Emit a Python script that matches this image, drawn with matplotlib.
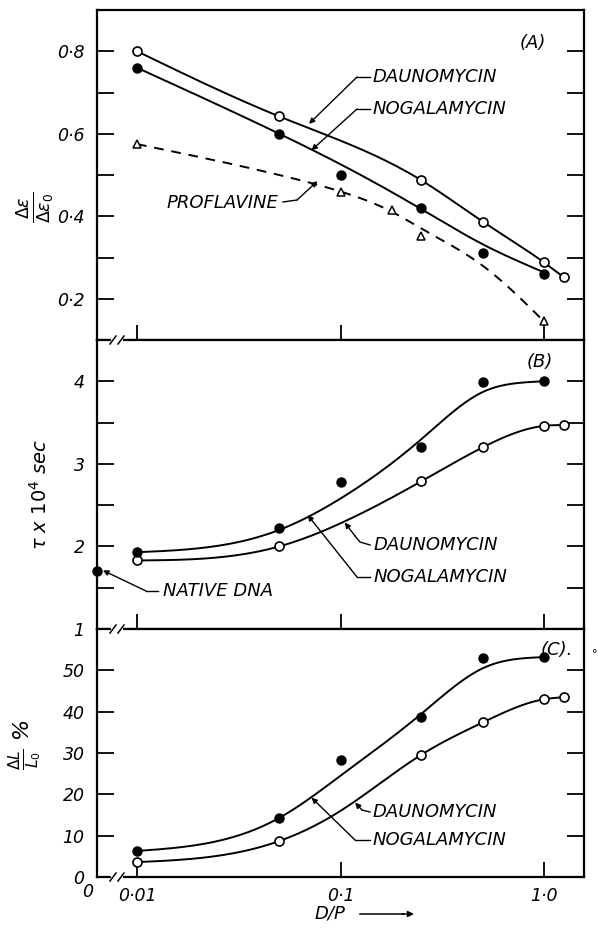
import numpy as np
import matplotlib
matplotlib.use('Agg')
import matplotlib.pyplot as plt
from matplotlib.lines import Line2D
from matplotlib.ticker import FixedLocator, NullLocator

plt.rcParams['font.family'] = ['DejaVu Sans']
plt.rcParams['mathtext.fontset'] = 'dejavusans'

W_PX, H_PX = 598, 932

# ---- data ----
dp_pts = [0.01, 0.05, 0.1, 0.25, 0.5, 1.0]
dp_open = [0.01, 0.05, 0.25, 0.5, 1.0, 1.25]
dp_tri = [0.01, 0.1, 0.18, 0.25, 1.0]

# (A) hypochromism ratio
a_daun = [0.80, 0.642, 0.487, 0.387, 0.288, 0.252]
a_noga = [0.76, 0.60, 0.50, 0.42, 0.31, 0.26]
a_prof = [0.575, 0.458, 0.414, 0.353, 0.145]
a_daun_fit_x = [0.01, 0.05, 0.25, 0.5, 1.0, 1.25]
a_daun_fit = [0.80, 0.642, 0.487, 0.387, 0.288, 0.252]
a_noga_fit_x = [0.01, 0.05, 0.1, 0.25, 0.5, 1.0]
a_noga_fit = [0.76, 0.60, 0.526, 0.417, 0.332, 0.264]
a_prof_fit_x = [0.01, 0.05, 0.1, 0.18, 0.25, 0.5, 1.0]
a_prof_fit = [0.575, 0.50, 0.46, 0.41, 0.37, 0.28, 0.145]

# (B) rotational relaxation time
b_daun = [1.83, 2.0, 2.79, 3.2, 3.46, 3.47]
b_noga = [1.93, 2.22, 2.78, 3.21, 3.99, 4.0]
b_native = 1.7
b_daun_fit_x = [0.01, 0.05, 0.1, 0.25, 0.5, 1.0, 1.25]
b_daun_fit = [1.83, 2.0, 2.28, 2.79, 3.2, 3.46, 3.47]
b_noga_fit_x = [0.01, 0.05, 0.1, 0.25, 0.5, 0.75, 1.0]
b_noga_fit = [1.93, 2.2, 2.58, 3.3, 3.87, 3.98, 4.0]

# (C) length increase
c_daun = [3.6, 8.7, 29.6, 37.4, 43.0, 43.5]
c_noga = [6.3, 14.3, 28.2, 38.6, 52.9, 53.2]
c_daun_fit_x = [0.01, 0.05, 0.1, 0.25, 0.5, 1.0, 1.25]
c_daun_fit = [3.6, 8.7, 16.0, 29.6, 37.4, 43.0, 43.5]
c_noga_fit_x = [0.01, 0.05, 0.1, 0.25, 0.5, 0.75, 1.0]
c_noga_fit = [6.3, 14.3, 24.5, 39.5, 50.5, 52.8, 53.2]

XMIN, XMAX = 0.00636, 1.572


def smooth(xs, ys, n=40):
    # natural cubic spline through the knots, in log-x space
    x = np.log10(xs)
    y = np.asarray(ys, float)
    k = len(x)
    h = np.diff(x)
    A = np.zeros((k, k))
    r = np.zeros(k)
    A[0, 0] = A[-1, -1] = 1
    for i in range(1, k - 1):
        A[i, i - 1] = h[i - 1]
        A[i, i] = 2 * (h[i - 1] + h[i])
        A[i, i + 1] = h[i]
        r[i] = 6 * ((y[i + 1] - y[i]) / h[i] - (y[i] - y[i - 1]) / h[i - 1])
    M = np.linalg.solve(A, r)
    px, py = [], []
    for i in range(k - 1):
        t = np.linspace(0, h[i], n, endpoint=False)
        a = (h[i] - t) / h[i]
        b = t / h[i]
        s = a * y[i] + b * y[i + 1] + ((a ** 3 - a) * M[i] + (b ** 3 - b) * M[i + 1]) * h[i] ** 2 / 6
        px.append(x[i] + t)
        py.append(s)
    px.append([x[-1]])
    py.append([y[-1]])
    return 10 ** np.concatenate(px), np.concatenate(py)


def fx(x):
    return x / W_PX


def fy(y):
    return 1 - y / H_PX


fig = plt.figure(figsize=(W_PX / 100, H_PX / 100), dpi=100)
L, Wd = 97 / W_PX, 487 / W_PX
axA = fig.add_axes([L, fy(340), Wd, 330 / H_PX])
axB = fig.add_axes([L, fy(629), Wd, 289 / H_PX])
axC = fig.add_axes([L, fy(877), Wd, 248 / H_PX])

txt = dict(style='italic', fontsize=13, color='k')
mk_open = dict(marker='o', ms=6.5, mfc='white', mec='k', mew=1.2, ls='none', zorder=5, clip_on=False)
mk_fill = dict(marker='o', ms=6.5, mfc='k', mec='k', ls='none', zorder=5, clip_on=False)

for ax in (axA, axB, axC):
    ax.set_xscale('log')
    ax.set_xlim(XMIN, XMAX)
    ax.xaxis.set_major_locator(FixedLocator([0.01, 0.1, 1.0]))
    ax.xaxis.set_minor_locator(NullLocator())
    ax.tick_params(axis='x', which='both', direction='in', length=11, width=1.3,
                   labelbottom=False)
    ax.tick_params(axis='y', which='both', direction='in', length=12, width=1.3,
                   right=True, pad=9, labelsize=12.5)
    for s in ax.spines.values():
        s.set_linewidth(1.6)

# ---- panel A ----
x, y = smooth(a_daun_fit_x, a_daun_fit)
axA.plot(x, y, color='k', lw=1.4)
x, y = smooth(a_noga_fit_x, a_noga_fit)
axA.plot(x, y, color='k', lw=1.4)
x, y = smooth(a_prof_fit_x, a_prof_fit)
axA.plot(x, y, color='k', lw=1.4, ls=(0, (5, 4)))
axA.plot(dp_open, a_daun, **mk_open)
axA.plot(dp_pts, a_noga, **mk_fill)
axA.plot(dp_tri, a_prof, marker='^', ms=6, mfc='white', mec='k', mew=1.1, ls='none', zorder=5)
axA.set_ylim(0.1, 0.9)
axA.yaxis.set_major_locator(FixedLocator([0.2, 0.4, 0.6, 0.8]))
axA.yaxis.set_minor_locator(FixedLocator([0.3, 0.5, 0.7]))
axA.set_yticklabels(['0·2', '0·4', '0·6', '0·8'], style='italic')

# ---- panel B ----
x, y = smooth(b_daun_fit_x, b_daun_fit)
axB.plot(x, y, color='k', lw=1.4)
x, y = smooth(b_noga_fit_x, b_noga_fit)
axB.plot(x, y, color='k', lw=1.4)
axB.plot(dp_open, b_daun, **mk_open)
axB.plot(dp_pts, b_noga, **mk_fill)
axB.plot([XMIN], [b_native], **mk_fill)
axB.set_ylim(1.0, 4.5)
axB.yaxis.set_major_locator(FixedLocator([1, 2, 3, 4]))
axB.yaxis.set_minor_locator(FixedLocator([1.5, 2.5, 3.5]))
axB.set_yticklabels(['1', '2', '3', '4'], style='italic')

# ---- panel C ----
x, y = smooth(c_daun_fit_x, c_daun_fit)
axC.plot(x, y, color='k', lw=1.4)
x, y = smooth(c_noga_fit_x, c_noga_fit)
axC.plot(x, y, color='k', lw=1.4)
axC.plot(dp_open, c_daun, **mk_open)
axC.plot(dp_pts, c_noga, **mk_fill)
axC.set_ylim(0, 60)
axC.yaxis.set_major_locator(FixedLocator([0, 10, 20, 30, 40, 50]))
axC.set_yticklabels(['0', '10', '20', '30', '40', '50'], style='italic')
axC.tick_params(axis='x', labelbottom=True, labelsize=12.5, pad=7)
axC.set_xticklabels(['0·01', '0·1', '1·0'], style='italic')
fig.text(fx(88), fy(892), '0', ha='center', va='center', style='italic', fontsize=12.5)

# axis break marks on each bottom spine
for yb in (340, 629, 877):
    fig.add_artist(Line2D([fx(113), fx(121)], [fy(yb), fy(yb)], transform=fig.transFigure,
                          color='white', lw=3, zorder=10))
    for xb in (113, 121):
        fig.add_artist(Line2D([fx(xb - 3), fx(xb + 3)], [fy(yb + 4), fy(yb - 4)],
                              transform=fig.transFigure, color='k', lw=1.1, zorder=11))

# y labels
fig.text(fx(36), fy(207), r'$\frac{\Delta\epsilon}{\Delta\epsilon_0}$', rotation=90,
         ha='center', va='center', fontsize=18)
fig.text(fx(40), fy(495), r'$\mathit{\tau}$ x $\mathit{10^4}$ sec', rotation=90,
         ha='center', va='center', fontsize=14, style='italic')
fig.text(fx(25), fy(745), r'$\frac{\Delta L}{L_0}$ %', rotation=90,
         ha='center', va='center', fontsize=16, style='italic')

# panel tags
fig.text(fx(533), fy(43), '(A)', ha='center', va='center', **txt)
fig.text(fx(540), fy(362), '(B)', ha='center', va='center', **txt)
fig.text(fx(557), fy(650), '(C).', ha='center', va='center', **txt)
fig.text(fx(595), fy(654), '°', ha='center', va='center', fontsize=8)


def leader(ax, pts, target):
    fig.add_artist(Line2D([fx(p[0]) for p in pts], [fy(p[1]) for p in pts],
                          transform=fig.transFigure, color='k', lw=1.0))
    ax.annotate('', xy=target, xycoords='data',
                xytext=(fx(pts[-1][0]), fy(pts[-1][1])), textcoords='figure fraction',
                arrowprops=dict(arrowstyle='-|>', lw=1.0, color='k', mutation_scale=8,
                                shrinkA=0, shrinkB=0))


# panel A labels
fig.text(fx(373), fy(77), 'DAUNOMYCIN', ha='left', va='center', **txt)
fig.text(fx(373), fy(109), 'NOGALAMYCIN', ha='left', va='center', **txt)
fig.text(fx(278), fy(203), 'PROFLAVINE', ha='right', va='center', **txt)
leader(axA, [(370, 77), (357, 77)], (0.07, 0.624))
leader(axA, [(370, 109), (357, 109)], (0.072, 0.56))
leader(axA, [(283, 202), (297, 200)], (0.077, 0.485))

# panel B labels
fig.text(fx(374), fy(545), 'DAUNOMYCIN', ha='left', va='center', **txt)
fig.text(fx(374), fy(577), 'NOGALAMYCIN', ha='left', va='center', **txt)
fig.text(fx(163), fy(591), 'NATIVE DNA', ha='left', va='center', **txt)
leader(axB, [(370, 545), (360, 542), (355, 536)], (0.105, 2.29))
leader(axB, [(370, 577), (357, 577)], (0.069, 2.38))
leader(axB, [(158, 591), (146, 591)], (0.0068, 1.71))

# panel C labels
fig.text(fx(373), fy(812), 'DAUNOMYCIN', ha='left', va='center', **txt)
fig.text(fx(373), fy(840), 'NOGALAMYCIN', ha='left', va='center', **txt)
leader(axC, [(370, 812), (362, 810)], (0.118, 18.0))
leader(axC, [(370, 840), (355, 840)], (0.072, 19.2))

# x label with arrow
fig.text(fx(330), fy(914), 'D/P', ha='center', va='center', style='italic', fontsize=13)
fig.add_artist(Line2D([fx(360), fx(404)], [fy(914), fy(914)], transform=fig.transFigure,
                      color='k', lw=1.1))
axC.annotate('', xy=(fx(414), fy(914)), xycoords='figure fraction',
             xytext=(fx(402), fy(914)), textcoords='figure fraction',
             arrowprops=dict(arrowstyle='-|>', lw=1.0, color='k', mutation_scale=9,
                             shrinkA=0, shrinkB=0))

fig.savefig('out.png', dpi=100)
